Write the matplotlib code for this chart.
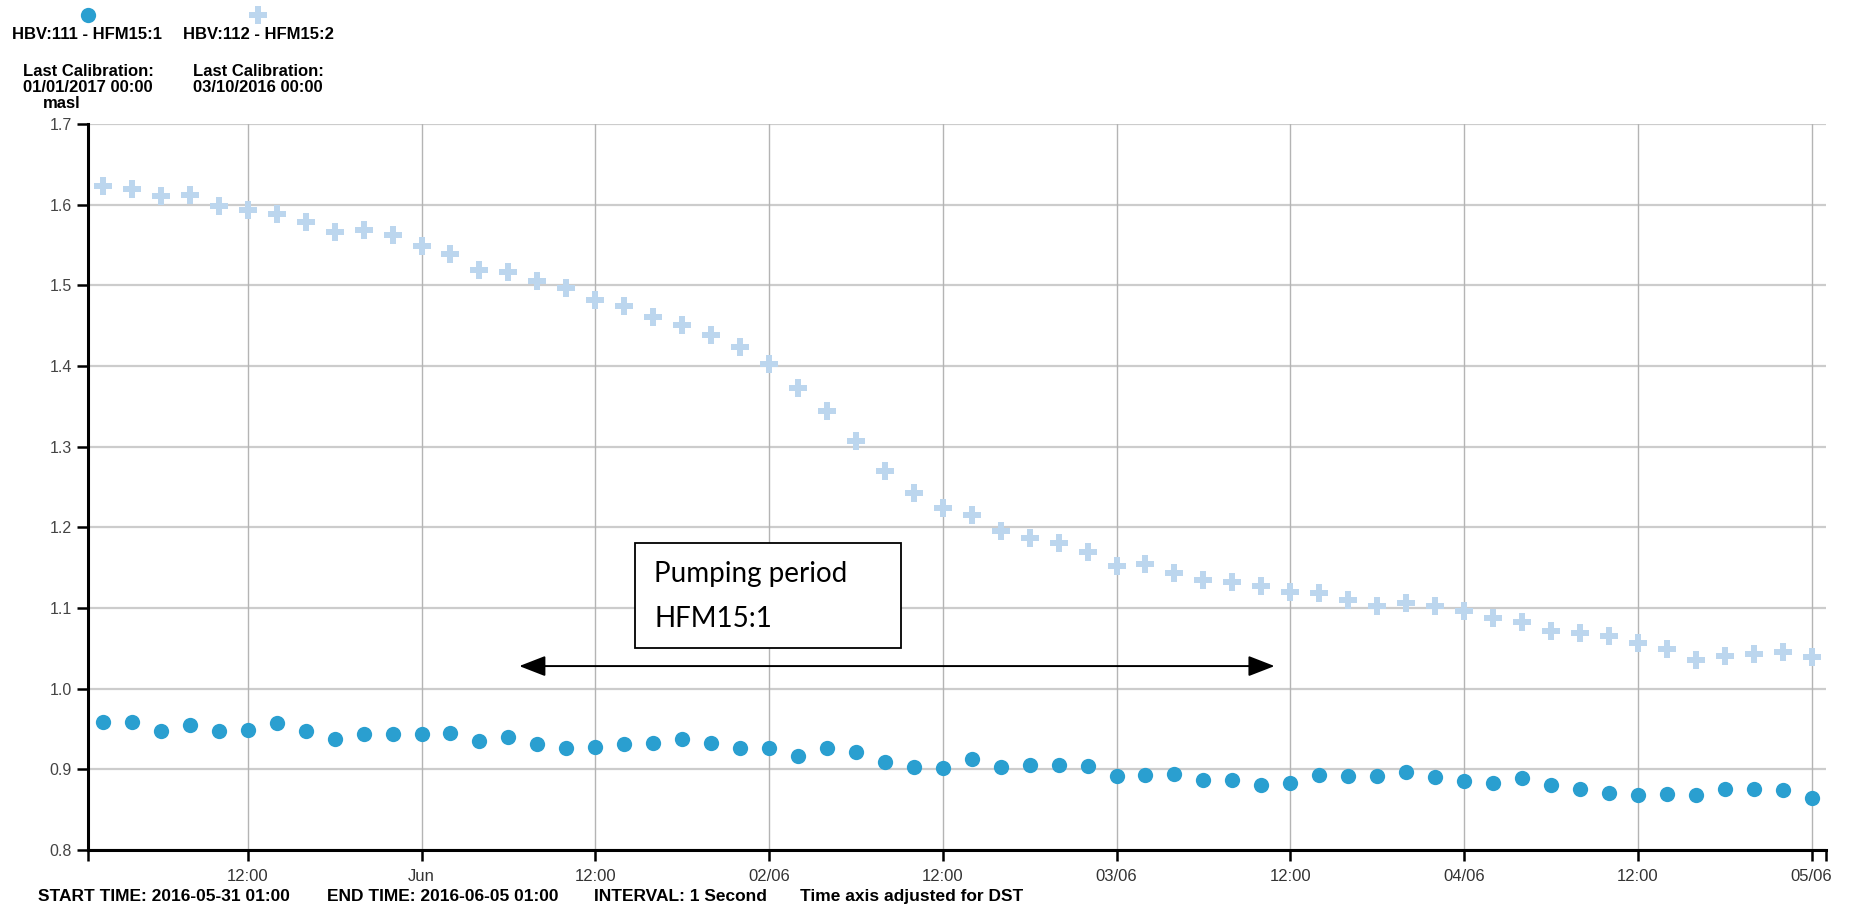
import matplotlib
matplotlib.use('Agg')
import matplotlib.pyplot as plt
import matplotlib.dates as mdates
from matplotlib.lines import Line2D
from matplotlib.patches import Rectangle
import pandas as pd

# water level readings, one every 2 hours
times = pd.date_range('2016-05-31 02:00', periods=60, freq='2h')
hfm15_1 = [0.959, 0.959, 0.948, 0.955, 0.948, 0.949, 0.957, 0.948, 0.937, 0.944,
           0.944, 0.944, 0.945, 0.935, 0.940, 0.931, 0.926, 0.928, 0.931, 0.933,
           0.937, 0.933, 0.926, 0.926, 0.917, 0.926, 0.921, 0.909, 0.903, 0.902,
           0.913, 0.903, 0.905, 0.905, 0.904, 0.892, 0.893, 0.894, 0.887, 0.887,
           0.880, 0.883, 0.893, 0.892, 0.892, 0.897, 0.890, 0.886, 0.883, 0.889,
           0.880, 0.876, 0.871, 0.868, 0.870, 0.868, 0.875, 0.876, 0.874, 0.864]
hfm15_2 = [1.623, 1.620, 1.611, 1.612, 1.598, 1.593, 1.588, 1.578, 1.566, 1.569,
           1.563, 1.549, 1.539, 1.519, 1.517, 1.506, 1.497, 1.482, 1.474, 1.461,
           1.451, 1.439, 1.423, 1.403, 1.373, 1.344, 1.307, 1.270, 1.243, 1.224,
           1.215, 1.196, 1.187, 1.180, 1.170, 1.152, 1.154, 1.144, 1.135, 1.132,
           1.127, 1.120, 1.118, 1.110, 1.103, 1.106, 1.103, 1.096, 1.088, 1.083,
           1.072, 1.069, 1.065, 1.056, 1.049, 1.036, 1.041, 1.043, 1.045, 1.039]

tick_times = pd.date_range('2016-05-31 12:00', periods=10, freq='12h')
tick_labels = ['12:00', 'Jun', '12:00', '02/06', '12:00', '03/06', '12:00', '04/06', '12:00', '05/06']
y_ticks = [0.8, 0.9, 1.0, 1.1, 1.2, 1.3, 1.4, 1.5, 1.6, 1.7]

start = pd.Timestamp('2016-05-31 01:00')
end = pd.Timestamp('2016-06-05 01:00')

c_dot = '#2a9fd0'
c_plus = '#bcd6ee'
narrow = ['Liberation Sans Narrow', 'Liberation Sans', 'DejaVu Sans']
plt.rcParams['font.family'] = ['Liberation Sans', 'DejaVu Sans']

fig = plt.figure(figsize=(18.51, 9.08), dpi=100)
ax = fig.add_axes([0.0478, 0.0639, 0.9387, 0.7995])

ax.plot(times, hfm15_2, linestyle='none', marker='P', markersize=13.5,
        color=c_plus, markeredgewidth=0, zorder=3)
ax.plot(times, hfm15_1, linestyle='none', marker='o', markersize=11,
        color=c_dot, markeredgewidth=0, zorder=4)

ax.set_xlim(start, end)
ax.set_ylim(0.8, 1.7)
ax.set_yticks(y_ticks)
ax.set_yticklabels([f'{v:.1f}' for v in y_ticks], fontsize=11.5, color='#444444')
ax.set_xticks(tick_times)
ax.set_xticklabels(tick_labels, fontsize=12, color='#333333', family=narrow)
ax.set_xticks([start, end], minor=True)

for v in y_ticks:
    ax.axhline(v, color='#cccccc', lw=1.6, zorder=1)
for t in tick_times:
    ax.axvline(t, color='#b4b4b4', lw=1.0, zorder=1)

for s in ['top', 'right']:
    ax.spines[s].set_visible(False)
for s in ['left', 'bottom']:
    ax.spines[s].set_linewidth(2.2)
    ax.spines[s].set_color('black')
ax.tick_params(axis='both', which='both', length=8, width=1.8, color='black')
ax.tick_params(axis='x', pad=6)
ax.tick_params(axis='y', pad=4)

# pumping period annotation
box_x0 = mdates.date2num(pd.Timestamp('2016-06-01 14:45'))
box_x1 = mdates.date2num(pd.Timestamp('2016-06-02 09:05'))
ax.add_patch(Rectangle((box_x0, 1.051), box_x1 - box_x0, 0.130, facecolor='white',
                       edgecolor='black', lw=1.3, zorder=5))
txt_x = mdates.date2num(pd.Timestamp('2016-06-01 16:05'))
ax.text(txt_x, 1.1325, 'Pumping period', fontsize=20, family=['Lato', 'DejaVu Sans'],
        va='baseline', ha='left', zorder=6)
ax.text(txt_x, 1.0767, 'HFM15:1', fontsize=20, family=['Lato', 'DejaVu Sans'],
        va='baseline', ha='left', zorder=6)
ax.annotate('', xy=(pd.Timestamp('2016-06-03 10:55'), 1.028),
            xytext=(pd.Timestamp('2016-06-01 06:45'), 1.028),
            arrowprops=dict(arrowstyle='<|-|>,head_length=0.9,head_width=0.35',
                            color='black', lw=1.4, mutation_scale=18, shrinkA=0, shrinkB=0),
            zorder=6)

# series header above the plot
W, H = 1851.0, 908.0
fig.add_artist(Line2D([88 / W], [1 - 15 / H], transform=fig.transFigure, marker='o',
                      markersize=11, color=c_dot, markeredgewidth=0))
fig.add_artist(Line2D([258 / W], [1 - 15 / H], transform=fig.transFigure, marker='P',
                      markersize=13.5, color=c_plus, markeredgewidth=0))
header = [
    (87, 34.5, 'HBV:111 - HFM15:1'),
    (258, 34.5, 'HBV:112 - HFM15:2'),
    (88, 71, 'Last Calibration:'),
    (88, 88, '01/01/2017 00:00'),
    (258, 71, 'Last Calibration:'),
    (258, 88, '03/10/2016 00:00'),
    (62, 104, 'masl'),
]
for x, y, s in header:
    fig.text(x / W, 1 - y / H, s, fontsize=12, fontweight='bold', ha='center', va='center')

footer = [
    (38, 'START TIME: 2016-05-31 01:00'),
    (327, 'END TIME: 2016-06-05 01:00'),
    (594, 'INTERVAL: 1 Second'),
    (800, 'Time axis adjusted for DST'),
]
for x, s in footer:
    fig.text(x / W, 1 - 901 / H, s, fontsize=12.5, fontweight='bold', ha='left', va='baseline',
             family=narrow)

fig.savefig('out.png', dpi=100)
